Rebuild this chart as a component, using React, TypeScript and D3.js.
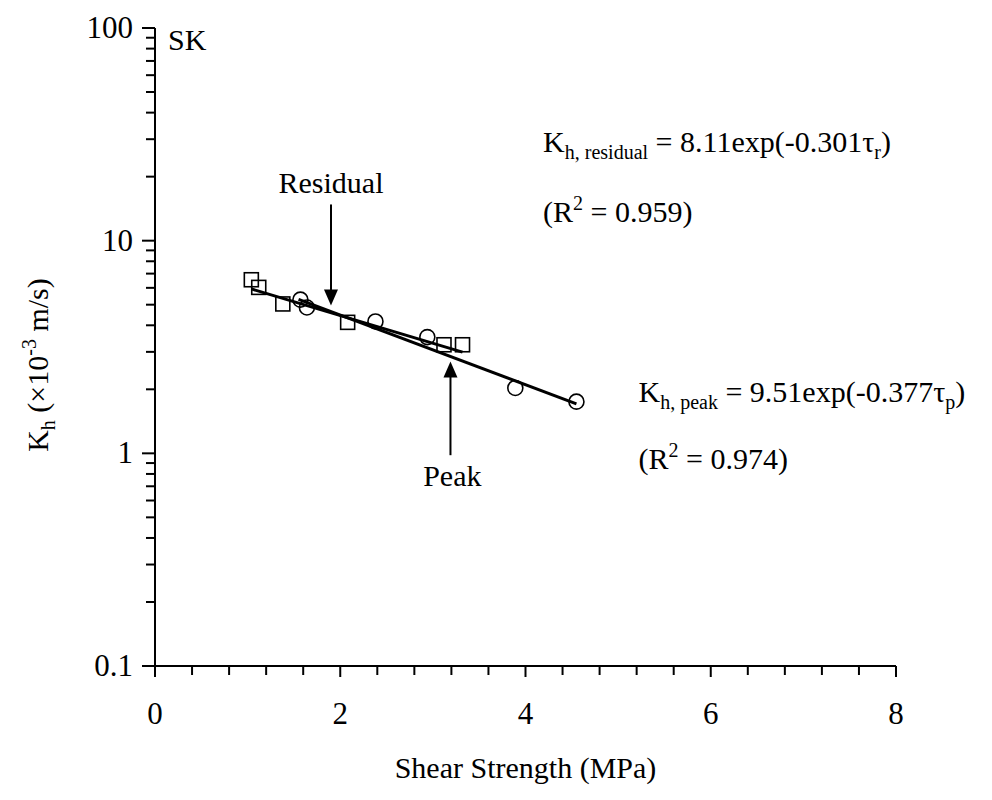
import React, { useEffect, useRef } from "react";
import * as d3 from "d3";

// residual strength points (squares) and peak strength points (circles)
const residualTau = [1.04, 1.12, 1.38, 2.08, 3.12, 3.32];
const residualK = [6.55, 6.03, 5.04, 4.13, 3.24, 3.24];
const peakTau = [1.57, 1.64, 2.38, 2.94, 3.89, 4.55];
const peakK = [5.28, 4.85, 4.17, 3.52, 2.03, 1.75];

// trendline end points
const residualFit = [
  [1.04, 5.93],
  [3.32, 2.99],
];
const peakFit = [
  [1.55, 5.3],
  [4.55, 1.71],
];

const xTicks = [0, 2, 4, 6, 8];
const yTicks = [0.1, 1, 10, 100];

const FONT = "'Liberation Serif', 'Times New Roman', serif";

const App = () => {
  const ref = useRef(null);

  useEffect(() => {
    const svg = d3.select(ref.current);
    svg.selectAll("*").remove();

    const width = 992;
    const height = 800;
    const margin = { top: 28, right: 96, bottom: 134, left: 155 };
    const x0 = margin.left;
    const x1 = width - margin.right;
    const y0 = height - margin.bottom;
    const y1 = margin.top;

    const x = d3.scaleLinear().domain([0, 8]).range([x0, x1]);
    const y = d3.scaleLog().domain([0.1, 100]).range([y0, y1]);

    const g = svg.append("g").attr("font-family", FONT).attr("fill", "#000");

    // axes lines
    g.append("line")
      .attr("x1", x0).attr("x2", x0).attr("y1", y1).attr("y2", y0)
      .attr("stroke", "#000").attr("stroke-width", 2);
    g.append("line")
      .attr("x1", x0).attr("x2", x1).attr("y1", y0).attr("y2", y0)
      .attr("stroke", "#000").attr("stroke-width", 2);

    // x ticks: major every 2, minor every 0.4
    const xMinor = d3.range(0, 8.001, 0.4);
    g.selectAll(".xminor")
      .data(xMinor)
      .enter()
      .append("line")
      .attr("x1", (d) => x(d)).attr("x2", (d) => x(d))
      .attr("y1", y0).attr("y2", (d) => y0 + (xTicks.some((t) => Math.abs(t - d) < 1e-6) ? 11 : 9))
      .attr("stroke", "#000").attr("stroke-width", 2);

    g.selectAll(".xlab")
      .data(xTicks)
      .enter()
      .append("text")
      .attr("x", (d) => x(d))
      .attr("y", y0 + 58)
      .attr("text-anchor", "middle")
      .attr("font-size", 31)
      .text((d) => d);

    // y ticks: major at decades, minor at 2..9
    const yMinor = [];
    [0.1, 1, 10].forEach((dec) => {
      for (let k = 2; k <= 9; k++) yMinor.push(dec * k);
    });
    g.selectAll(".yminor")
      .data(yMinor)
      .enter()
      .append("line")
      .attr("x1", x0 - 9).attr("x2", x0)
      .attr("y1", (d) => y(d)).attr("y2", (d) => y(d))
      .attr("stroke", "#000").attr("stroke-width", 2);
    g.selectAll(".ymajor")
      .data(yTicks)
      .enter()
      .append("line")
      .attr("x1", x0 - 13).attr("x2", x0)
      .attr("y1", (d) => y(d)).attr("y2", (d) => y(d))
      .attr("stroke", "#000").attr("stroke-width", 2);
    g.selectAll(".ylab")
      .data(yTicks)
      .enter()
      .append("text")
      .attr("x", x0 - 22)
      .attr("y", (d) => y(d) + 10)
      .attr("text-anchor", "end")
      .attr("font-size", 31)
      .text((d) => d);

    // axis titles
    g.append("text")
      .attr("x", (x0 + x1) / 2)
      .attr("y", y0 + 112)
      .attr("text-anchor", "middle")
      .attr("font-size", 30)
      .text("Shear Strength (MPa)");

    const yt = g.append("text")
      .attr("transform", `translate(48,365) rotate(-90)`)
      .attr("text-anchor", "middle")
      .attr("font-size", 30);
    yt.append("tspan").text("K");
    yt.append("tspan").attr("font-size", 20).attr("dy", 7).text("h");
    yt.append("tspan").attr("dy", -7).text(" (×10");
    yt.append("tspan").attr("font-size", 20).attr("dy", -12).text("-3");
    yt.append("tspan").attr("dy", 12).text(" m/s)");

    g.append("text")
      .attr("x", x0 + 13)
      .attr("y", y(100) + 22)
      .attr("font-size", 30)
      .text("SK");

    // trend lines
    const line = d3.line().x((d) => x(d[0])).y((d) => y(d[1]));
    [residualFit, peakFit].forEach((pts) => {
      g.append("path")
        .attr("d", line(pts))
        .attr("fill", "none")
        .attr("stroke", "#000")
        .attr("stroke-width", 3);
    });

    // markers
    const sq = 14;
    g.selectAll(".sq")
      .data(residualTau.map((t, i) => [t, residualK[i]]))
      .enter()
      .append("rect")
      .attr("x", (d) => x(d[0]) - sq / 2)
      .attr("y", (d) => y(d[1]) - sq / 2)
      .attr("width", sq)
      .attr("height", sq)
      .attr("fill", "none")
      .attr("stroke", "#000")
      .attr("stroke-width", 1.6);
    g.selectAll(".ci")
      .data(peakTau.map((t, i) => [t, peakK[i]]))
      .enter()
      .append("circle")
      .attr("cx", (d) => x(d[0]))
      .attr("cy", (d) => y(d[1]))
      .attr("r", 7.5)
      .attr("fill", "none")
      .attr("stroke", "#000")
      .attr("stroke-width", 1.6);

    // arrows
    const arrow = (xv, from, to) => {
      const ax = x(xv);
      const ya = y(from);
      const yb = y(to);
      const dir = yb > ya ? 1 : -1;
      g.append("line")
        .attr("x1", ax).attr("x2", ax)
        .attr("y1", ya).attr("y2", yb - dir * 14)
        .attr("stroke", "#000").attr("stroke-width", 2);
      g.append("path")
        .attr("d", `M${ax - 7},${yb - dir * 16}L${ax + 7},${yb - dir * 16}L${ax},${yb}Z`)
        .attr("fill", "#000");
    };
    arrow(1.9, 14.8, 4.95);
    arrow(3.19, 0.98, 2.7);

    g.append("text")
      .attr("x", x(1.9))
      .attr("y", y(16.8))
      .attr("text-anchor", "middle")
      .attr("font-size", 30)
      .text("Residual");
    g.append("text")
      .attr("x", x(3.21))
      .attr("y", y(0.7))
      .attr("text-anchor", "middle")
      .attr("font-size", 30)
      .text("Peak");

    // equations
    const eq = (xv, yv, sub, body, tau) => {
      const t = g.append("text").attr("x", x(xv)).attr("y", y(yv)).attr("font-size", 30);
      t.append("tspan").text("K");
      t.append("tspan").attr("font-size", 20).attr("dy", 7).text(sub);
      t.append("tspan").attr("dy", -7).text(body);
      t.append("tspan").attr("font-size", 20).attr("dy", 7).text(tau);
      t.append("tspan").attr("dy", -7).text(")");
    };
    const r2 = (xv, yv, val) => {
      const t = g.append("text").attr("x", x(xv)).attr("y", y(yv)).attr("font-size", 30);
      t.append("tspan").text("(R");
      t.append("tspan").attr("font-size", 20).attr("dy", -12).text("2");
      t.append("tspan").attr("dy", 12).text(` = ${val})`);
    };
    eq(4.19, 26.2, "h, residual", " = 8.11exp(-0.301τ", "r");
    r2(4.19, 12.3, "0.959");
    eq(5.22, 1.75, "h, peak", " = 9.51exp(-0.377τ", "p");
    r2(5.22, 0.84, "0.974");
  }, []);

  return (
    <svg
      ref={ref}
      width={992}
      height={800}
      style={{ position: "absolute", left: 0, top: 0, background: "#fff" }}
    />
  );
};

export default App;
